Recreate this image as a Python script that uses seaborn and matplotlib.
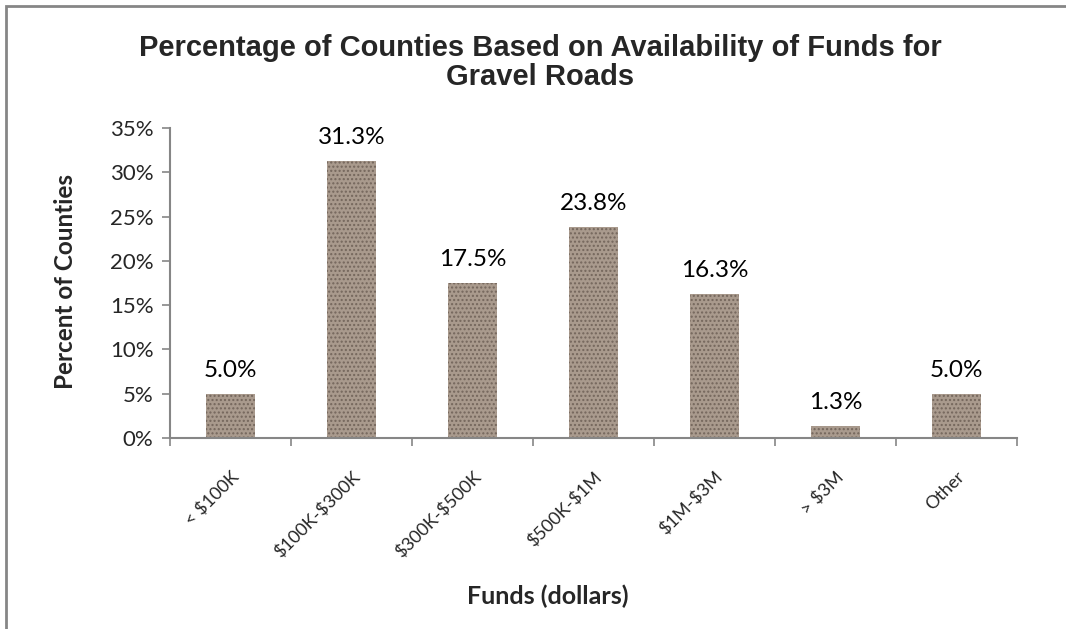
import matplotlib
matplotlib.use("Agg")
import matplotlib.pyplot as plt
import seaborn as sns
import pandas as pd
from matplotlib.patches import Rectangle
from matplotlib.ticker import FuncFormatter, MultipleLocator

# chart data
categories = ['< $100K', '$100K-$300K', '$300K-$500K', '$500K-$1M', '$1M-$3M', '> $3M', 'Other']
percents = [5.0, 31.3, 17.5, 23.8, 16.3, 1.3, 5.0]

df = pd.DataFrame({'Funds': categories, 'Percent': percents})

sns.set_style('white')
plt.rcParams['font.family'] = ['Lato', 'DejaVu Sans']

fig = plt.figure(figsize=(10.66, 6.29), dpi=100)
ax = fig.add_axes([0.1595, 0.3037, 0.7945, 0.4928])

gravel = '#a99a8d'
sns.barplot(data=df, x='Funds', y='Percent', ax=ax, color=gravel, width=0.4,
            saturation=1, linewidth=0)
for p in ax.patches:
    p.set_hatch('....')
    p.set_edgecolor('#74665c')

# value labels
for p, v in zip(ax.patches, percents):
    ax.annotate(f'{v:.1f}%', (p.get_x() + p.get_width() / 2, p.get_height()),
                xytext=(0, 17), textcoords='offset points', ha='center', va='center',
                fontsize=17.5, color='black')

ax.set_ylim(0, 35)
ax.set_xlim(-0.5, len(categories) - 0.5)
ax.yaxis.set_major_locator(MultipleLocator(5))
ax.yaxis.set_major_formatter(FuncFormatter(lambda v, _: f'{v:.0f}%'))

# ticks between categories like the spreadsheet chart
ax.set_xticks(range(len(categories)))
ax.set_xticklabels([c.replace('$', r'\$') for c in categories], rotation=45,
                   ha='right', va='top', rotation_mode='anchor', fontsize=13)
ax.set_xticks([i - 0.5 for i in range(len(categories) + 1)], minor=True)
ax.tick_params(axis='x', which='major', length=0, pad=22)
ax.tick_params(axis='x', which='minor', length=6, width=1.2, color='#868686', direction='out')
ax.tick_params(axis='y', length=6, width=1.2, color='#868686', direction='out', labelsize=16, pad=6)
ax.tick_params(bottom=True, left=True, which='both')

for side in ['top', 'right']:
    ax.spines[side].set_visible(False)
for side in ['left', 'bottom']:
    ax.spines[side].set_color('#868686')
    ax.spines[side].set_linewidth(1.5)

ax.set_xlabel('')
ax.set_ylabel('')
fig.text(0.061, 0.552, 'Percent of Counties', rotation=90, ha='center', va='center',
         fontsize=17.5, fontweight='bold')
fig.text(0.514, 0.052, 'Funds (dollars)', ha='center', va='center',
         fontsize=18, fontweight='bold')

fig.text(0.507, 0.901, 'Percentage of Counties Based on Availability of Funds for\nGravel Roads',
         ha='center', va='center', fontsize=21, fontweight='bold',
         family=['Liberation Sans', 'DejaVu Sans'], linespacing=1.05)

# chart frame
fig.patches.append(Rectangle((0.0056, -0.05), 1.1, 1.04, transform=fig.transFigure,
                             fill=False, edgecolor='#868686', linewidth=2))

fig.savefig('out.png', dpi=100)
